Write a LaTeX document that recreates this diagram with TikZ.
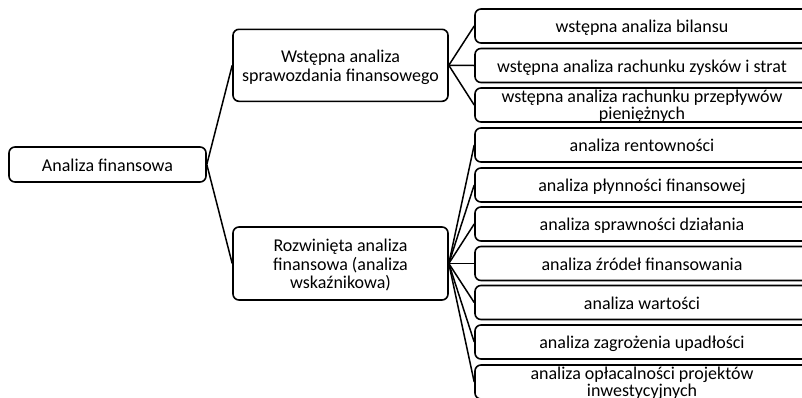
\documentclass[tikz,border=0pt]{standalone}
\usepackage{fontspec}
\setmainfont{Carlito}
\newcommand{\mlines}[3]{\smash{\raisebox{#2}{\fontsize{18}{#1}\selectfont\begin{tabular}[b]{@{}c@{}}#3\end{tabular}}}}
\tikzset{
  box/.style={draw, line width=1.6pt, rounded corners=6pt, inner sep=0pt,
    text height=13pt, text depth=0pt, font=\fontsize{18}{18.5}\selectfont},
  leaf/.style={box, minimum width=334pt, minimum height=34pt},
  mid/.style={box, minimum width=215pt, minimum height=72pt},
  conn/.style={line width=1.5pt},
}
\begin{document}
\begin{tikzpicture}[x=1pt,y=-1pt]
\clip (0,0) rectangle (802,397);
\node[box, minimum width=197pt, minimum height=35pt] (root) at (107.5,164.5) {Analiza finansowa};
\node[mid] (m1) at (340.5,65.3) {\mlines{18.5pt}{-9.25pt}{Wstępna analiza\\sprawozdania finansowego}};
\node[mid, minimum height=73pt] (m2) at (340.5,263.5) {\mlines{18.8pt}{-18.8pt}{Rozwinięta analiza\\finansowa (analiza\\wskaźnikowa)}};
\node[leaf] (l1) at (642,26) {wstępna analiza bilansu};
\node[leaf] (l2) at (642,65.5) {wstępna analiza rachunku zysków i strat};
\node[leaf] (l3) at (642,105) {\mlines{16.3pt}{-8.15pt}{wstępna analiza rachunku przepływów\\pieniężnych}};
\node[leaf] (l4) at (642,145) {analiza rentowności};
\node[leaf] (l5) at (642,185) {analiza płynności finansowej};
\node[leaf] (l6) at (642,224) {analiza sprawności działania};
\node[leaf] (l7) at (642,263.5) {analiza źródeł finansowania};
\node[leaf] (l8) at (642,302.5) {analiza wartości};
\node[leaf] (l9) at (642,342) {analiza zagrożenia upadłości};
\node[leaf] (l10) at (642,382) {\mlines{16.3pt}{-8.15pt}{analiza opłacalności projektów\\inwestycyjnych}};
\draw[conn] (root.east) -- (m1.west);
\draw[conn] (root.east) -- (m2.west);
\foreach \i in {1,2,3} \draw[conn] (m1.east) -- (l\i.west);
\foreach \i in {4,...,10} \draw[conn] (m2.east) -- (l\i.west);
\end{tikzpicture}
\end{document}
